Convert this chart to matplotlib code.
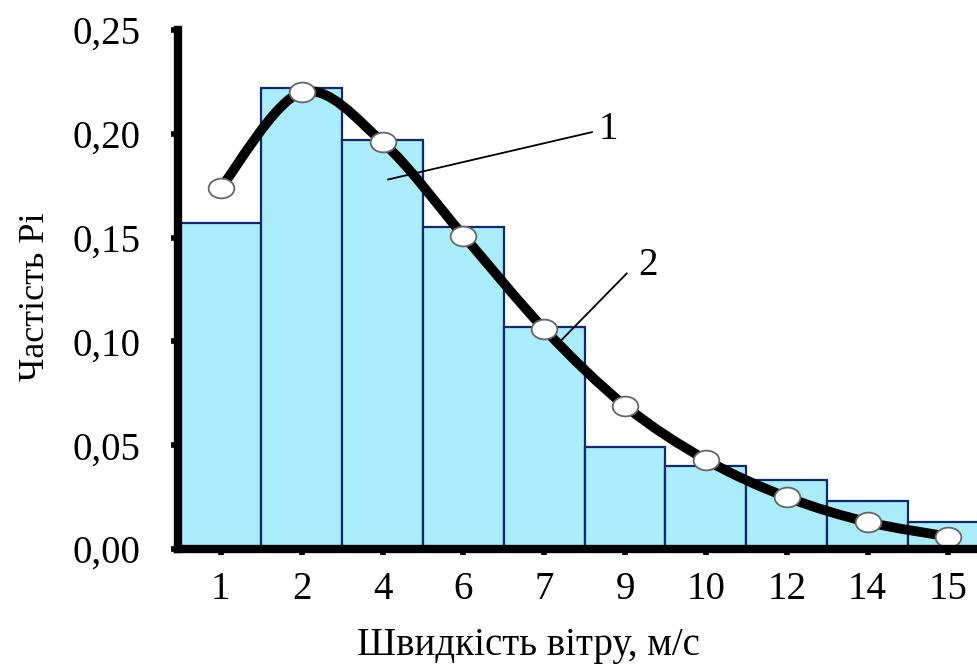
import numpy as np
import matplotlib
matplotlib.use("Agg")
import matplotlib.pyplot as plt
from matplotlib.path import Path
from matplotlib.patches import PathPatch

# wind speed classes, m/s
speeds = ["1", "2", "4", "6", "7", "9", "10", "12", "14", "15"]
# observed frequency (histogram, 1)
freq_obs = [0.157, 0.222, 0.197, 0.155, 0.107, 0.049, 0.040, 0.033, 0.023, 0.013]
# theoretical frequency (curve, 2)
freq_fit = [0.174, 0.220, 0.196, 0.151, 0.106, 0.069, 0.043, 0.025, 0.013, 0.006]

yticks = [0.0, 0.05, 0.10, 0.15, 0.20, 0.25]


def smooth_path(xs, ys):
    # Catmull-Rom style bezier through the points (like a "smoothed line")
    pts = np.column_stack([xs, ys]).astype(float)
    n = len(pts)
    verts = [pts[0]]
    codes = [Path.MOVETO]
    for i in range(n - 1):
        p0 = pts[i - 1] if i > 0 else pts[i]
        p1 = pts[i]
        p2 = pts[i + 1]
        p3 = pts[i + 2] if i + 2 < n else pts[i + 1]
        c1 = p1 + (p2 - p0) / 6.
        c2 = p2 - (p3 - p1) / 6.
        verts += [c1, c2, p2]
        codes += [Path.CURVE4] * 3
    return Path(verts, codes)


plt.rcParams['font.family'] = ['Liberation Serif', 'DejaVu Serif']

fig = plt.figure(figsize=(9.77, 6.70), dpi=100)
ax = fig.add_axes([0.1822, 0.1806, 0.834, 0.7746])

x = np.arange(len(speeds))
ax.bar(x, freq_obs, width=1.0, color="#aaecf9", edgecolor="#0b2a72",
       linewidth=1.6, zorder=2)

curve = PathPatch(smooth_path(x, freq_fit), facecolor="none", edgecolor="black",
                  linewidth=7, capstyle="round", joinstyle="round", zorder=3)
ax.add_patch(curve)

circ = Path.unit_circle()
ellipse = Path(circ.vertices * np.array([1.3, 1.0]), circ.codes)
ax.plot(x, freq_fit, linestyle="none", marker=ellipse, markersize=18.5,
        markerfacecolor="white", markeredgecolor="#666666", markeredgewidth=1.3,
        zorder=4)

# labels 1 and 2
ax.plot([2.07, 4.59], [0.178, 0.2008], color="black", linewidth=1.3, zorder=5)
ax.text(4.8, 0.202, "1", fontsize=28, ha="center", va="center")
ax.plot([4.17, 5.02], [0.0989, 0.1327], color="black", linewidth=1.3, zorder=5)
ax.text(5.28, 0.1366, "2", fontsize=28, ha="center", va="center")

ax.set_xlim(-0.53, 9.55)
ax.set_ylim(0, 0.25)
ax.set_xticks(x)
ax.set_xticklabels(speeds)
ax.set_yticks(yticks)
ax.set_yticklabels([("%.2f" % v).replace(".", ",") for v in yticks])

for s in ["top", "right"]:
    ax.spines[s].set_visible(False)
for s in ["left", "bottom"]:
    ax.spines[s].set_linewidth(6)
    ax.spines[s].set_zorder(6)

ax.tick_params(axis="y", direction="out", length=5, width=4, pad=22, labelsize=28)
ax.tick_params(axis="x", direction="out", length=4, width=4, pad=12, labelsize=28)

ax.set_xlabel("Швидкість вітру, м/с", fontsize=28)
ax.xaxis.set_label_coords(0.4295, -0.15)
ax.set_ylabel("Частість Рі", fontsize=26)
ax.yaxis.set_label_coords(-0.155, 0.4855)

fig.savefig("out.png", dpi=100)
